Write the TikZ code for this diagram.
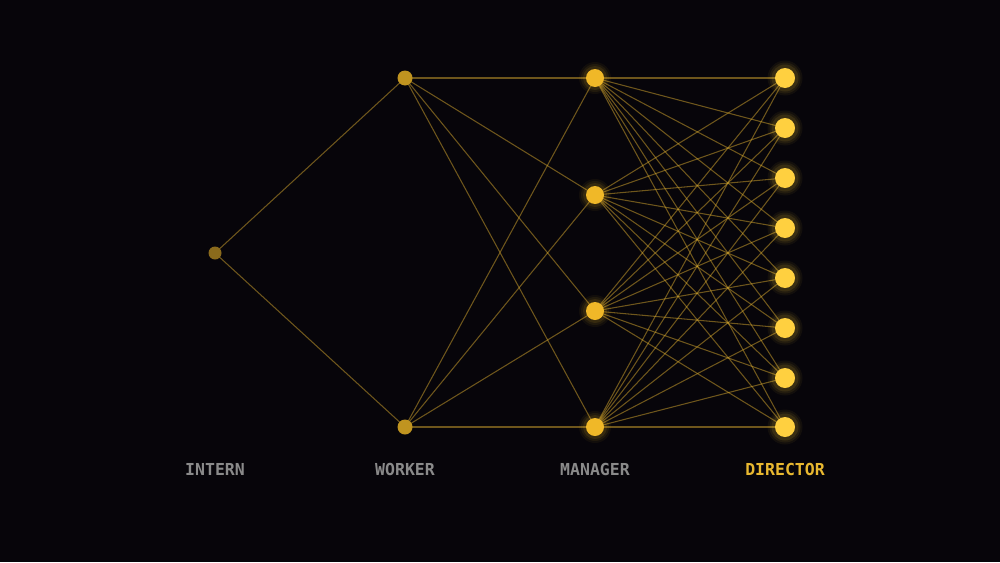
\documentclass[tikz,border=0pt]{standalone}
\usepackage{fontspec}
\setmonofont{DejaVu Sans Mono}
\definecolor{bg}{HTML}{07050A}
\definecolor{edge}{HTML}{E0B030}
\definecolor{internc}{HTML}{8A6A1C}
\definecolor{workerc}{HTML}{C09420}
\definecolor{managerc}{HTML}{F0B828}
\definecolor{directorc}{HTML}{FFD040}
\definecolor{labelgray}{HTML}{8A8A8A}
\definecolor{labelgold}{HTML}{E8B830}
\tikzset{
  conn/.style={draw=edge, draw opacity=0.48, line width=1.05pt},
  internnode/.style={circle, fill=internc, minimum size=13pt, inner sep=0pt},
  workernode/.style={circle, fill=workerc, minimum size=15pt, inner sep=0pt},
  managernode/.style={circle, fill=managerc, minimum size=18pt, inner sep=0pt},
  directornode/.style={circle, fill=directorc, minimum size=20pt, inner sep=0pt},
  lab/.style={font=\ttfamily\bfseries\fontsize{16.5}{19}\selectfont, anchor=center},
}
\begin{document}
\begin{tikzpicture}[x=1pt,y=-1pt]
\fill[bg] (0,0) rectangle (1000,562);
\useasboundingbox (0,0) rectangle (1000,562);
% coordinates
\coordinate (I) at (215,253);
\coordinate (W1) at (405,78);
\coordinate (W2) at (405,427);
\foreach \i/\y in {1/78,2/195,3/311,4/427} {\coordinate (M\i) at (595,\y);}
\foreach \i/\y in {1/78,2/128,3/178,4/228,5/278,6/328,7/378,8/427} {\coordinate (D\i) at (785,\y);}
% edges
\draw[conn] (I) -- (W1);
\draw[conn] (I) -- (W2);
\foreach \w in {1,2} {\foreach \m in {1,...,4} {\draw[conn] (W\w) -- (M\m);}}
\foreach \m in {1,...,4} {\foreach \d in {1,...,8} {\draw[conn] (M\m) -- (D\d);}}
% glows
\foreach \i in {1,...,4} {
  \foreach \r/\o in {16/0.05,14/0.07,12/0.1} {\fill[managerc, opacity=\o] (M\i) circle (\r);}
}
\foreach \i in {1,...,8} {
  \foreach \r/\o in {17.5/0.05,15.5/0.07,13.5/0.1} {\fill[directorc, opacity=\o] (D\i) circle (\r);}
}
% nodes
\node[internnode] (nI) at (I) {};
\node[workernode] (nW1) at (W1) {};
\node[workernode] (nW2) at (W2) {};
\foreach \i in {1,...,4} {\node[managernode] (nM\i) at (M\i) {};}
\foreach \i in {1,...,8} {\node[directornode] (nD\i) at (D\i) {};}
% labels
\node[lab, text=labelgray] (lI) at (215,469) {INTERN};
\node[lab, text=labelgray] (lW) at (405,469) {WORKER};
\node[lab, text=labelgray] (lM) at (595,469) {MANAGER};
\node[lab, text=labelgold] (lD) at (785,469) {DIRECTOR};
\end{tikzpicture}
\end{document}
